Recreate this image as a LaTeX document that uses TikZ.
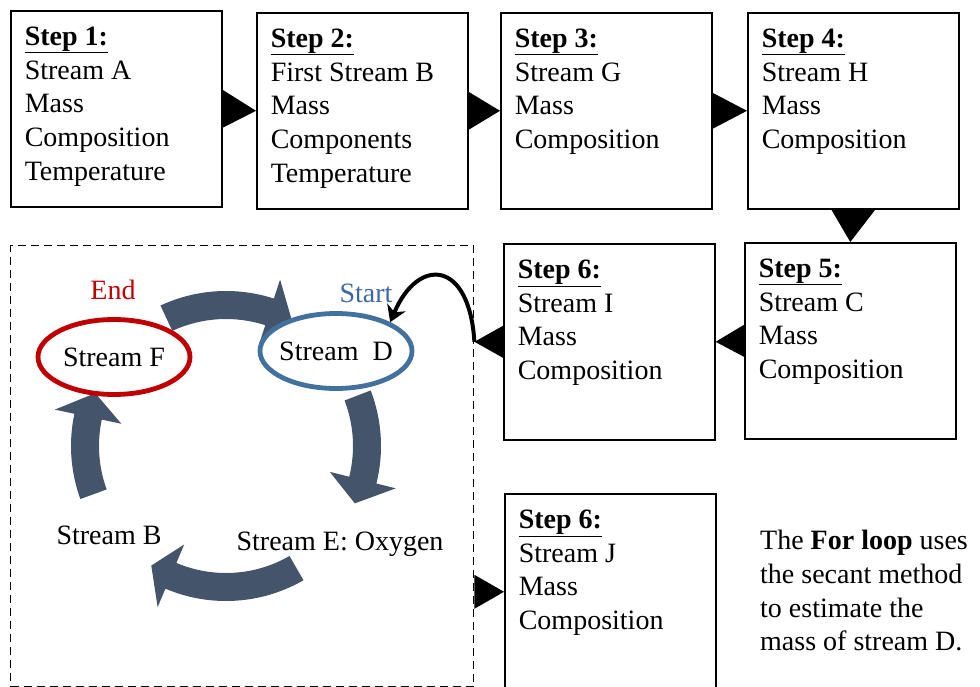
\documentclass[tikz,border=0pt]{standalone}
\usepackage{fontspec}
\setmainfont{Liberation Serif}
\usetikzlibrary{positioning,calc,shapes.geometric,arrows.meta}
\definecolor{endred}{HTML}{C00000}
\definecolor{startblue}{HTML}{41719C}
\definecolor{labelblue}{HTML}{3D68A6}
\definecolor{cyc}{HTML}{44546A}
\newcommand{\stepbody}[2]{\parbox[t][164pt][t]{183pt}{\textbf{\underline{#1}}\\#2}}
\newcommand{\pointer}[3]{\fill ($(#1)+(#3)$) -- ($(#1)-(#3)$) -- (#2) -- cycle;}
\newcommand{\cyclearrow}[3]{\fill[cyc] (#1:155) arc[start angle=#1, end angle=#2, radius=155] -- (#2:175) -- (#3:141) -- (#2:107) -- (#2:127) arc[start angle=#2, end angle=#1, radius=127] -- cycle;}

\begin{document}
\begin{tikzpicture}[x=1pt,y=-1pt,font=\fontsize{28}{33.7}\selectfont,
    stepbox/.style={draw,line width=1.6pt,anchor=north west,inner xsep=14pt,inner ysep=16pt,minimum width=211pt,minimum height=196pt},
    stream/.style={ellipse,draw,line width=4.8pt,fill=white,inner xsep=-8pt,inner ysep=0pt,minimum width=152pt,minimum height=75pt},
    tag/.style={anchor=base,inner sep=0pt}]
    \useasboundingbox (0,0) rectangle (980,687);
    \node (b1) at (10,10) [stepbox] {\stepbody{Step 1:}{Stream A\\Mass\\Composition\\Temperature}};
    \node (b2) at (256,12) [stepbox] {\stepbody{Step 2:}{First Stream B\\Mass\\Components\\Temperature}};
    \pointer{b1.east}{b2.west}{0,19}
    \node (b3) at (500,12) [stepbox] {\stepbody{Step 3:}{Stream G\\Mass\\Composition}};
    \pointer{b2.east}{b3.west}{0,19}
    \node (b4) at (747,12) [stepbox] {\stepbody{Step 4:}{Stream H\\Mass\\Composition}};
    \pointer{b3.east}{b4.west}{0,18}
    \node (b5) at (744,242) [stepbox] {\stepbody{Step 5:}{Stream C\\Mass\\Composition}};
    \pointer{b4.south}{b5.north}{22,0}
    \node (bI) at (503,243) [stepbox] {\stepbody{Step 6:}{Stream I\\Mass\\Composition}};
    \pointer{b5.west}{bI.east}{0,16}
    \node (bJ) at (504,493) [stepbox] {\stepbody{Step 6:}{Stream J\\Mass\\Composition}};
    \node (loop) at (10,245) [draw,line width=1.4pt,dash pattern=on 8pt off 5pt,anchor=north west,minimum width=463pt,minimum height=441pt,inner sep=0pt] {};
    \coordinate (iout) at (loop.east |- bI.west);
    \coordinate (jin) at (loop.east |- bJ.west);
    \pointer{bI.west}{iout}{0,16}
    \pointer{jin}{bJ.west}{0,17}
    \begin{scope}[shift={(226,446)}]
        \cyclearrow{-115}{-72}{-62}
        \cyclearrow{-21}{14}{24}
        \cyclearrow{60}{113}{122}
        \cyclearrow{160}{192}{202}
    \end{scope}
    \node (F) at (114,357) [stream,draw=endred] {Stream F};
    \node (D) at (336,351) [stream,draw=startblue] {Stream\ \ D};
    \node (end) at (113,299) [tag,text=endred] {End};
    \node (start) at (366,302) [tag,text=labelblue] {Start};
    \node (B) at (109,544) [tag] {Stream B};
    \node (E) at (340,550) [tag] {Stream E: Oxygen};
    \draw[line width=4pt,-{Stealth[length=16pt,width=20pt]}] (iout) .. controls +(-5,-82) and +(28,-66) .. (D.28);
    \node (note) at (760,530) [anchor=north west,align=left,inner sep=0pt] {The \textbf{For loop} uses\\the secant method\\to estimate the\\mass of stream D.};
\end{tikzpicture}
\end{document}
